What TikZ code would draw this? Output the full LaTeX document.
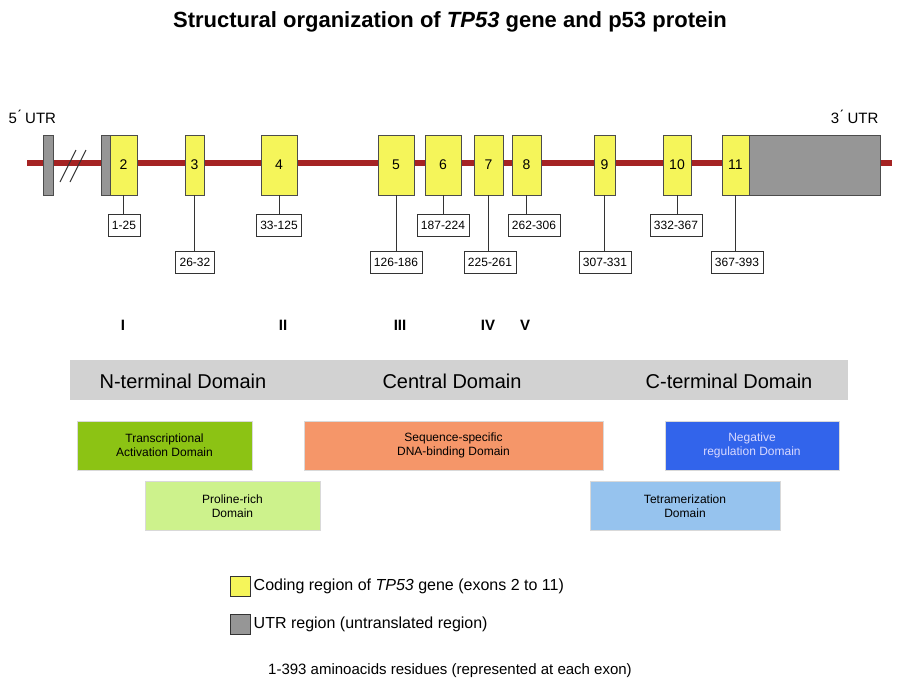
\documentclass[tikz,border=0pt]{standalone}
\usepackage{fontspec}
\setmainfont{Liberation Sans}
\definecolor{intron}{RGB}{165,35,35}
\definecolor{exonfill}{RGB}{245,245,90}
\definecolor{utrfill}{RGB}{150,150,150}
\definecolor{bandfill}{RGB}{210,210,210}
\tikzset{
  exon/.style={draw=black!70,fill=exonfill,minimum height=60pt,inner sep=0pt,font=\fontsize{14}{16}\selectfont},
  utr/.style={draw=black!70,fill=utrfill,minimum height=60pt,inner sep=0pt},
  resbox/.style={draw=black!80,fill=white,minimum height=22pt,inner xsep=4pt,font=\fontsize{12}{14}\selectfont},
  roman/.style={font=\fontsize{15}{17}\bfseries},
  protdom/.style={draw=black!15,minimum height=49pt,align=center,font=\fontsize{12}{14}\selectfont},
  legendbox/.style={draw=black!80,minimum width=20pt,minimum height=20pt,inner sep=0pt}
}
\begin{document}
\begin{tikzpicture}[x=1pt,y=-1pt]
\useasboundingbox[fill=white] (0,0) rectangle (900,696);

% title
\node (title) at (450,22) {\fontsize{22}{26}\bfseries Structural organization of \textit{TP53} gene and p53 protein};
\node[anchor=west,font=\fontsize{15}{17}\selectfont] (utr5) at (5,117) {5\'{} UTR};
\node[anchor=east,font=\fontsize{15}{17}\selectfont] (utr3) at (882,117) {3\'{} UTR};

% intron line
\draw[intron,line width=6pt] (27,163) -- (892,163);

% exons
\node[utr,minimum width=10pt] (u1) at (48,165) {};
\draw[black!80,line width=1pt] (60,182) -- (76,150) (70,182) -- (86,150);
\node[utr,minimum width=9pt] (u2) at (105.5,165) {};
\node[exon,minimum width=27pt] (e2) at (123.5,165) {2};
\node[exon,minimum width=19pt] (e3) at (194.5,165) {3};
\node[exon,minimum width=36pt] (e4) at (279,165) {4};
\node[exon,minimum width=36pt] (e5) at (396,165) {5};
\node[exon,minimum width=36pt] (e6) at (443,165) {6};
\node[exon,minimum width=29pt] (e7) at (488.5,165) {7};
\node[exon,minimum width=29pt] (e8) at (526.5,165) {8};
\node[exon,minimum width=21pt] (e9) at (604.5,165) {9};
\node[exon,minimum width=28pt] (e10) at (677,165) {10};
\node[exon,minimum width=27pt] (e11) at (735.5,165) {11};
\node[utr,minimum width=131pt] (u3) at (814.5,165) {};

% residue ranges
\node[resbox] (r2) at (124,225) {1-25};
\node[resbox] (r3) at (195,262) {26-32};
\node[resbox] (r4) at (279,225) {33-125};
\node[resbox] (r5) at (396,262) {126-186};
\node[resbox] (r6) at (443,225) {187-224};
\node[resbox] (r7) at (490,262) {225-261};
\node[resbox] (r8) at (534,225) {262-306};
\node[resbox] (r9) at (605,262) {307-331};
\node[resbox] (r10) at (676,225) {332-367};
\node[resbox] (r11) at (737,262) {367-393};
\foreach \i in {2,...,11}
  \draw[black!80] (e\i.south) -- (e\i.south |- r\i.north);

% romans
\node[roman] (n1) at (123,325) {I};
\node[roman] (n2) at (283,325) {II};
\node[roman] (n3) at (400,325) {III};
\node[roman] (n4) at (488,325) {IV};
\node[roman] (n5) at (525,325) {V};

% domain band
\fill[bandfill] (70,360) rectangle (848,400);
\node[font=\fontsize{20}{22}\selectfont] (nterm) at (183,381) {N-terminal Domain};
\node[font=\fontsize{20}{22}\selectfont] (central) at (452,381) {Central Domain};
\node[font=\fontsize{20}{22}\selectfont] (cterm) at (729,381) {C-terminal Domain};

% protein domains
\node[protdom,fill={rgb,255:red,140;green,195;blue,20},minimum width=175pt] (tad) at (164.5,445.5) {Transcriptional\\Activation Domain};
\node[protdom,fill={rgb,255:red,205;green,242;blue,140},minimum width=175pt] (prd) at (232.5,506) {Proline-rich\\Domain};
\node[protdom,fill={rgb,255:red,245;green,150;blue,105},minimum width=299pt] (dbd) at (453.5,445.5) {Sequence-specific\\DNA-binding Domain};
\node[protdom,fill={rgb,255:red,50;green,100;blue,235},text=white!85!blue,minimum width=174pt] (neg) at (752,445.5) {Negative\\regulation Domain};
\node[protdom,fill={rgb,255:red,150;green,195;blue,238},minimum width=190pt] (tet) at (685,506) {Tetramerization\\Domain};

% legend
\node[legendbox,fill=exonfill] (k1) at (240,586) {};
\node[legendbox,fill=utrfill] (k2) at (240,624) {};
\node[anchor=west,font=\fontsize{16}{18}\selectfont] (k1t) at (k1.east) {Coding region of \textit{TP53} gene (exons 2 to 11)};
\node[anchor=west,font=\fontsize{16}{18}\selectfont] (k2t) at (k2.east) {UTR region (untranslated region)};
\node[font=\fontsize{15}{17}\selectfont] (foot) at (450,671) {1-393 aminoacids residues (represented at each exon)};
\end{tikzpicture}
\end{document}
